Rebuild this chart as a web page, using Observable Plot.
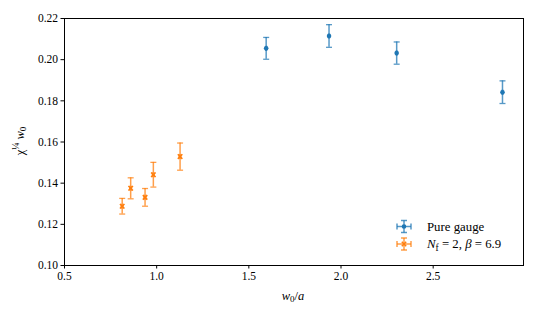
<!DOCTYPE html>
<html><head><meta charset="utf-8">
<script src="https://cdn.jsdelivr.net/npm/d3@7"></script>
<script src="https://cdn.jsdelivr.net/npm/@observablehq/plot@0.6"></script>
<style>body{margin:0;background:#fff} svg text{font-family:"Liberation Serif","Times New Roman",serif !important;}</style>
</head><body><div id="chart"></div>
<script>
// Pure gauge
const pgX = [1.594, 1.935, 2.302, 2.876];
const pgY = [0.2055, 0.2115, 0.2032, 0.1842];
const pgErr = [0.0053, 0.0055, 0.0054, 0.0055];
const pgXErr = [0.003, 0.003, 0.003, 0.003];
// Nf = 2, beta = 6.9
const nfX = [0.813, 0.859, 0.937, 0.982, 1.127];
const nfY = [0.1288, 0.1375, 0.1331, 0.1441, 0.1529];
const nfErr = [0.0038, 0.0051, 0.0043, 0.0060, 0.0066];
const nfXErr = [0.005, 0.005, 0.005, 0.005, 0.005];
const xTicks = [0.5, 1.0, 1.5, 2.0, 2.5];
const yTicks = [0.10, 0.12, 0.14, 0.16, 0.18, 0.20, 0.22];
const blue = "#1f77b4", orange = "#ff7f0e";

const pg = pgX.map((x,i)=>({x, y:pgY[i], e:pgErr[i], ex:pgXErr[i]}));
const nf = nfX.map((x,i)=>({x, y:nfY[i], e:nfErr[i], ex:nfXErr[i]}));

const hCap = {draw(ctx){ctx.moveTo(-3,0);ctx.lineTo(3,0);}};
const vCap = {draw(ctx){ctx.moveTo(0,-2.5);ctx.lineTo(0,2.5);}};

function errMarks(data, color, sym, r){
  return [
    Plot.ruleX(data, {x:"x", y1:d=>d.y-d.e, y2:d=>d.y+d.e, stroke:color, strokeWidth:1.5, strokeOpacity:0.75}),
    Plot.ruleY(data, {y:"y", x1:d=>d.x-d.ex, x2:d=>d.x+d.ex, stroke:color, strokeWidth:1.5, strokeOpacity:0.75}),
    Plot.dot(data, {x:"x", y:d=>d.y-d.e, symbol:hCap, fill:"none", stroke:color, strokeWidth:1.3, strokeOpacity:0.75}),
    Plot.dot(data, {x:"x", y:d=>d.y+d.e, symbol:hCap, fill:"none", stroke:color, strokeWidth:1.3, strokeOpacity:0.75}),
    Plot.dot(data, {x:d=>d.x-d.ex, y:"y", symbol:vCap, fill:"none", stroke:color, strokeWidth:1.3, strokeOpacity:0.75}),
    Plot.dot(data, {x:d=>d.x+d.ex, y:"y", symbol:vCap, fill:"none", stroke:color, strokeWidth:1.3, strokeOpacity:0.75}),
    sym === "times"
      ? Plot.dot(data, {x:"x", y:"y", symbol:"times", r, stroke:color, strokeWidth:1.5})
      : Plot.dot(data, {x:"x", y:"y", r, fill:color, stroke:"none"})
  ];
}

const plot = Plot.plot({
  width: 540, height: 315,
  marginLeft: 64, marginRight: 17, marginTop: 18, marginBottom: 50,
  style: {fontFamily: "Liberation Serif, serif", fontSize: "11.5px", color: "black", background: "white"},
  x: {domain: [0.5, 2.99], ticks: xTicks, tickFormat: d3.format(".1f"), tickSize: 3.5, tickPadding: 3, label: null},
  y: {domain: [0.10, 0.22], ticks: yTicks, tickFormat: d3.format(".2f"), tickSize: 3.5, tickPadding: 3, label: null},
  marks: [
    ...errMarks(pg, blue, "dot", 2.3),
    ...errMarks(nf, orange, "times", 2.2),
    Plot.frame({stroke: "black", strokeWidth: 1})
  ]
});
document.getElementById("chart").appendChild(plot);

const svg = d3.select(plot);
// y label
const yl = svg.append("text").attr("transform","translate(24,141) rotate(-90)")
  .attr("text-anchor","middle").attr("font-size",12.5).attr("fill","black");
yl.append("tspan").text("χ");
yl.append("tspan").attr("font-size",9.5).attr("dy",-5).text("¼");
yl.append("tspan").attr("dy",5).attr("font-style","italic").text(" w");
yl.append("tspan").attr("font-size",9).attr("dy",2).text("0");
// x label
const xl = svg.append("text").attr("x",293).attr("y",300)
  .attr("text-anchor","middle").attr("font-size",12.5).attr("fill","black");
xl.append("tspan").attr("font-style","italic").text("w");
xl.append("tspan").attr("font-size",9).attr("dy",2).text("0");
xl.append("tspan").attr("dy",-2).text("/");
xl.append("tspan").attr("font-style","italic").text("a");

// legend
function legIcon(cx, cy, color, sym){
  const g = svg.append("g").attr("stroke",color).attr("stroke-width",1.5);
  const L = (x1,y1,x2,y2)=>g.append("line").attr("x1",x1).attr("y1",y1).attr("x2",x2).attr("y2",y2).attr("stroke-opacity",0.75);
  L(cx,cy-6,cx,cy+6); L(cx-7,cy,cx+7,cy);
  L(cx-3,cy-6,cx+3,cy-6); L(cx-3,cy+6,cx+3,cy+6);
  L(cx-7,cy-3,cx-7,cy+3); L(cx+7,cy-3,cx+7,cy+3);
  if (sym === "times") {
    g.append("path").attr("d",`M${cx-2.2},${cy-2.2}L${cx+2.2},${cy+2.2}M${cx-2.2},${cy+2.2}L${cx+2.2},${cy-2.2}`);
  } else {
    g.append("circle").attr("cx",cx).attr("cy",cy).attr("r",2.3).attr("fill",color).attr("stroke","none");
  }
}
legIcon(404, 226.5, blue, "dot");
legIcon(404, 244, orange, "times");
svg.append("text").attr("x",427).attr("y",230.5).attr("text-anchor","start").attr("font-size",12.8).attr("fill","black").text("Pure gauge");
const lt = svg.append("text").attr("x",427).attr("y",248).attr("text-anchor","start").attr("font-size",12.8).attr("fill","black");
lt.append("tspan").attr("font-style","italic").text("N");
lt.append("tspan").attr("font-size",9.5).attr("dy",2.5).text("f");
lt.append("tspan").attr("dy",-2.5).text(" = 2, ");
lt.append("tspan").attr("font-style","italic").text("β");
lt.append("tspan").text(" = 6.9");
</script>
</body></html>
